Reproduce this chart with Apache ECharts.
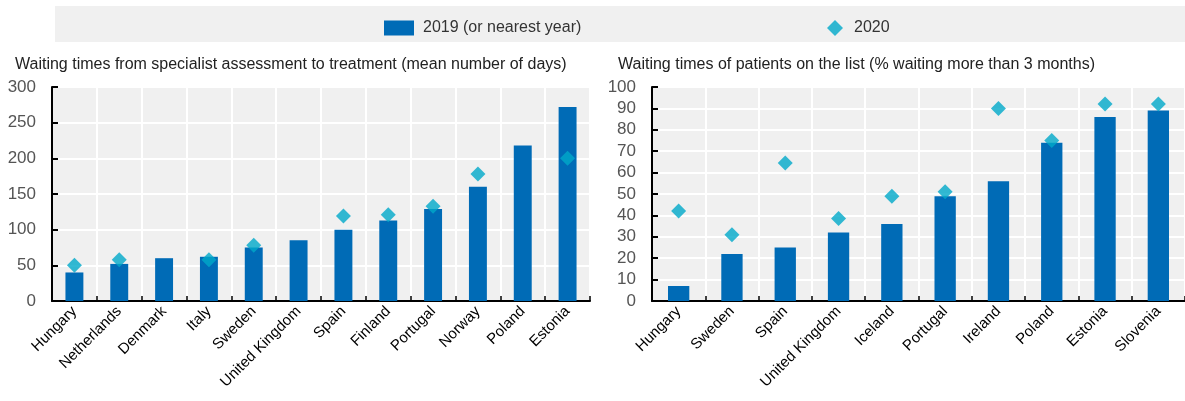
<!DOCTYPE html>
<html>
<head>
<meta charset="utf-8">
<script src="https://cdn.jsdelivr.net/npm/echarts@6/dist/echarts.min.js"></script>
<style>
html,body{margin:0;padding:0;background:#fff;}
#main{width:1185px;height:401px;}
</style>
</head>
<body>
<div id="main"></div>
<script>
var chart = echarts.init(document.getElementById('main'));

// left panel: mean number of days
var leftCountries = ['Hungary','Netherlands','Denmark','Italy','Sweden','United Kingdom','Spain','Finland','Portugal','Norway','Poland','Estonia'];
var left2019 = [40, 52, 60, 62, 75, 85, 100, 113, 129, 160, 218, 272];
var left2020 = [50, 58, null, 58, 78, null, 119, 121, 133, 178, null, 200];

// right panel: % waiting more than 3 months
var rightCountries = ['Hungary','Sweden','Spain','United Kingdom','Iceland','Portugal','Ireland','Poland','Estonia','Slovenia'];
var right2019 = [7, 22, 25, 32, 36, 49, 56, 74, 86, 89];
var right2020 = [42, 31, 64.5, 38.5, 49, 51, 90, 75, 92, 92];

var FONT = '"Liberation Sans Narrow", "Arial Narrow", "Liberation Sans", sans-serif';
var BAR = '#006bb6';
var DOT = '#00a9c9';

function xAx(idx, cats) {
    return {
        type: 'category', gridIndex: idx, data: cats,
        axisLine: {lineStyle: {color: '#000', width: 2}},
        axisTick: {show: true, inside: true, length: 5, lineStyle: {color: '#000', width: 1.5}},
        axisLabel: {interval: 0, rotate: 45, color: '#000', fontSize: 15, fontFamily: FONT, margin: 8},
        splitLine: {show: true, lineStyle: {color: '#fff', width: 2}}
    };
}
function yAx(idx, max, step) {
    return {
        type: 'value', gridIndex: idx, min: 0, max: max, interval: step,
        axisLine: {show: true, lineStyle: {color: '#000', width: 2}},
        axisTick: {show: true, inside: true, length: 6, lineStyle: {color: '#000', width: 2}},
        axisLabel: {color: '#555', fontSize: 17, fontFamily: FONT, margin: 16},
        splitLine: {show: true, lineStyle: {color: '#fff', width: 2}}
    };
}

var options = {
    animation: false,
    textStyle: {fontFamily: FONT},
    graphic: [{
        type: 'rect', z: -10,
        shape: {x: 55, y: 6, width: 1130, height: 36},
        style: {fill: '#f0f0f0'}
    }],
    legend: [{
        left: 379, top: 15, data: ['2019 (or nearest year)'],
        itemWidth: 30, itemHeight: 15, icon: 'rect',
        textStyle: {fontSize: 16, color: '#333', fontFamily: FONT, padding: [2, 0, 0, 4]}
    }, {
        left: 822, top: 15, data: ['2020'],
        itemWidth: 16, itemHeight: 16, icon: 'diamond',
        textStyle: {fontSize: 16, color: '#333', fontFamily: FONT, padding: [2, 0, 0, 6]}
    }],
    title: [{
        text: 'Waiting times from specialist assessment to treatment (mean number of days)',
        left: 10, top: 52,
        textStyle: {fontSize: 16, fontWeight: 'normal', color: '#222', fontFamily: FONT}
    }, {
        text: 'Waiting times of patients on the list (% waiting more than 3 months)',
        left: 613, top: 52,
        textStyle: {fontSize: 16, fontWeight: 'normal', color: '#222', fontFamily: FONT}
    }],
    grid: [
        {left: 52, right: 595, top: 87, bottom: 100, show: true, backgroundColor: '#f0f0f0', borderWidth: 0},
        {left: 652, right: 0, top: 87, bottom: 100, show: true, backgroundColor: '#f0f0f0', borderWidth: 0}
    ],
    xAxis: [xAx(0, leftCountries), xAx(1, rightCountries)],
    yAxis: [yAx(0, 300, 50), yAx(1, 100, 10)],
    series: [
        {name: '2019 (or nearest year)', type: 'bar', xAxisIndex: 0, yAxisIndex: 0, data: left2019,
         barWidth: '40%', itemStyle: {color: BAR}},
        {name: '2020', type: 'scatter', xAxisIndex: 0, yAxisIndex: 0, data: left2020,
         symbol: 'diamond', symbolSize: 15, itemStyle: {color: DOT}, z: 5},
        {name: '2019 (or nearest year)', type: 'bar', xAxisIndex: 1, yAxisIndex: 1, data: right2019,
         barWidth: '40%', itemStyle: {color: BAR}},
        {name: '2020', type: 'scatter', xAxisIndex: 1, yAxisIndex: 1, data: right2020,
         symbol: 'diamond', symbolSize: 15, itemStyle: {color: DOT}, z: 5}
    ]
};
chart.setOption(options);
</script>
</body>
</html>
